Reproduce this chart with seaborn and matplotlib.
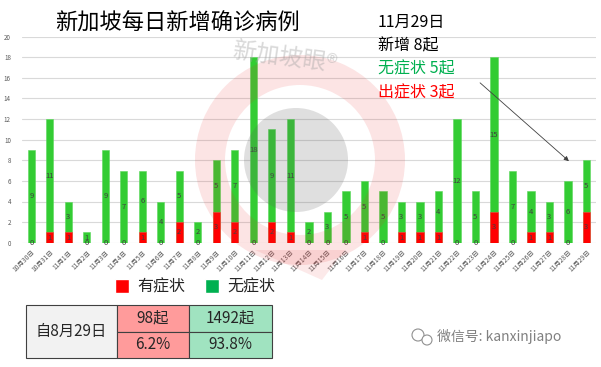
import matplotlib
matplotlib.use("Agg")
import matplotlib.pyplot as plt
from matplotlib.patches import Patch, Rectangle, Wedge, Circle, Polygon
import pandas as pd
import seaborn as sns

# daily cases, 10/30 .. 11/29
dates = ["10月30日", "10月31日"] + [f"11月{d}日" for d in range(1, 30)]
symptomatic = [0, 1, 1, 0, 0, 0, 1, 0, 2, 0, 3, 2, 0, 2, 1, 0,
               0, 0, 1, 0, 1, 1, 1, 0, 0, 3, 0, 1, 1, 0, 3]
asymptomatic = [9, 11, 3, 1, 9, 7, 6, 4, 5, 2, 5, 7, 18, 9, 11, 2,
                3, 5, 5, 5, 3, 3, 4, 12, 5, 15, 7, 4, 3, 6, 5]
y_ticks = list(range(0, 21, 2))

legend_labels = ["有症状", "无症状"]
summary_label = "自8月29日"
summary_sym = ["98起", "6.2%"]
summary_asym = ["1492起", "93.8%"]
note_lines = ["11月29日", "新增 8起", "无症状 5起", "出症状 3起"]

RED = "#FF0000"
GREEN = "#33CC33"
LEG_GREEN = "#00B050"

df = pd.DataFrame({"date": dates, "sym": symptomatic, "asym": asymptomatic})
df["total"] = df["sym"] + df["asym"]

sns.set_theme(style="white")
plt.rcParams["font.family"] = ["Noto Sans CJK SC", "DejaVu Sans"]

fig = plt.figure(figsize=(6.01, 3.67), dpi=100)
ax = fig.add_axes([22 / 601, 1 - 242.7 / 367, (595.6 - 22) / 601, (242.7 - 36.7) / 367])

sns.barplot(data=df, x="date", y="total", color=GREEN, width=0.4, saturation=1,
            edgecolor="#5BD85B", linewidth=0.4, ax=ax, zorder=2)
sns.barplot(data=df, x="date", y="sym", color=RED, width=0.4, saturation=1,
            edgecolor="#FF4040", linewidth=0.4, ax=ax, zorder=3)

for i, row in df.iterrows():
    ax.text(i, row["sym"] / 2 if row["sym"] else -0.05, str(row["sym"]),
            ha="center", va="center", fontsize=5.5, color="#404040", zorder=4)
    ax.text(i, row["sym"] + row["asym"] / 2, str(row["asym"]),
            ha="center", va="center", fontsize=5.5, color="#404040", zorder=4)

ax.set_ylim(0, 20)
ax.set_yticks(y_ticks)
ax.set_xlim(-0.5, len(dates) - 0.5)
ax.grid(axis="y", color="#D9D9D9", linewidth=0.8, zorder=0)
ax.set_axisbelow(True)
for s in ax.spines.values():
    s.set_visible(False)
ax.set_xlabel("")
ax.set_ylabel("")
ax.tick_params(axis="y", labelsize=4.5, labelcolor="#595959", length=0, pad=8)
ax.tick_params(axis="x", labelsize=4.8, labelcolor="#595959", length=0, pad=4)
for lab in ax.get_xticklabels():
    lab.set_rotation(45)
    lab.set_ha("right")
    lab.set_rotation_mode("anchor")

# overlay in pixel coordinates
ov = fig.add_axes([0, 0, 1, 1], zorder=5)
ov.set_xlim(0, 601)
ov.set_ylim(367, 0)
ov.axis("off")
ov.patch.set_alpha(0)

# faint logo watermark
ov.add_patch(Wedge((300, 160), 105, 0, 360, width=30, color="#E83030", alpha=0.13, lw=0))
ov.add_patch(Polygon([[255, 250], [345, 250], [322, 280]], closed=True, color="#E83030", alpha=0.1, lw=0))
ov.add_patch(Circle((296, 160), 52, color="#606060", alpha=0.2, lw=0))
ov.text(285, 58, "新加坡眼®", fontsize=17, color="#A0A0A0", alpha=0.4,
        rotation=-8, ha="center", va="center")

ov.text(55, 23, "新加坡每日新增确诊病例", fontsize=16, color="black", ha="left", va="center")
note_colors = ["black", "black", "#00B050", RED]
for k, (txt, c) in enumerate(zip(note_lines, note_colors)):
    ov.text(378, 22 + k * 23.5, txt, fontsize=11.5, color=c, ha="left", va="center")
ov.annotate("", xy=(571, 163), xytext=(478, 81),
            arrowprops=dict(arrowstyle="-|>", color="#404040", lw=0.6, mutation_scale=7))

# legend
handles = [Patch(facecolor=RED, label=legend_labels[0]),
           Patch(facecolor=LEG_GREEN, label=legend_labels[1])]
fig.legend(handles=handles, loc="center", bbox_to_anchor=(195 / 601, 1 - 287 / 367),
           ncol=2, frameon=False, fontsize=11.5, handlelength=0.9, handleheight=0.9,
           handletextpad=0.5, columnspacing=1.2)

# summary table
x0, x1, x2, x3 = 26, 117, 189, 272
y0, ym, y1 = 305, 331.5, 358
ov.add_patch(Rectangle((x0, y0), x1 - x0, y1 - y0, facecolor="#F2F2F2", edgecolor="#404040", lw=0.8))
for yy in (y0, ym):
    ov.add_patch(Rectangle((x1, yy), x2 - x1, ym - y0, facecolor="#FF9B9B", edgecolor="#404040", lw=0.8))
    ov.add_patch(Rectangle((x2, yy), x3 - x2, ym - y0, facecolor="#A0E3C0", edgecolor="#404040", lw=0.8))
ov.text((x0 + x1) / 2, (y0 + y1) / 2, summary_label, fontsize=11, ha="center", va="center")
for k, yy in enumerate(((y0 + ym) / 2, (ym + y1) / 2)):
    ov.text((x1 + x2) / 2, yy, summary_sym[k], fontsize=11, ha="center", va="center")
    ov.text((x2 + x3) / 2, yy, summary_asym[k], fontsize=11, ha="center", va="center")

# wechat mark
ov.add_patch(Circle((418, 335), 6, facecolor="none", edgecolor="#909090", lw=0.8))
ov.add_patch(Circle((427, 340), 5, facecolor="white", edgecolor="#909090", lw=0.8))
ov.text(437, 337, "微信号: kanxinjiapo", fontsize=10, color="#808080", ha="left", va="center")

fig.savefig("out.png", dpi=100)
